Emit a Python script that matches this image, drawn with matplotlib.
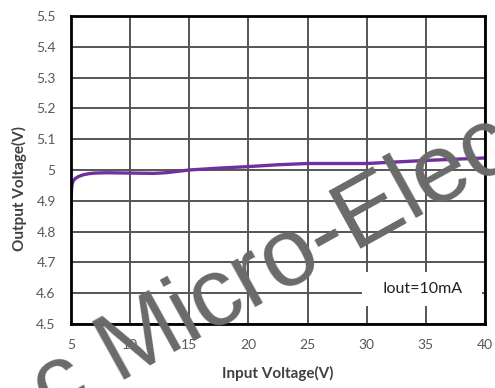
import matplotlib
matplotlib.use('Agg')
import matplotlib.pyplot as plt
from matplotlib.patches import Rectangle

# output voltage vs input voltage, Iout = 10mA
vin = [5, 5.02, 5.05, 5.1, 5.2, 5.35, 5.6, 6, 6.5, 7, 8, 10, 12, 13, 15,
       17.5, 20, 22.5, 25, 27.5, 30, 32.5, 35, 37.5, 40]
vout = [4.85, 4.91, 4.94, 4.955, 4.965, 4.972, 4.978, 4.984, 4.988, 4.99, 4.991,
        4.99, 4.989, 4.991, 5.0, 5.006, 5.011, 5.017, 5.021, 5.021, 5.021,
        5.026, 5.031, 5.035, 5.039]

x_ticks = [5, 10, 15, 20, 25, 30, 35, 40]
y_ticks = [4.5, 4.6, 4.7, 4.8, 4.9, 5.0, 5.1, 5.2, 5.3, 5.4, 5.5]
y_labels = ['4.5', '4.6', '4.7', '4.8', '4.9', '5', '5.1', '5.2', '5.3', '5.4', '5.5']

plt.rcParams['font.family'] = ['Lato', 'DejaVu Sans']

fig = plt.figure(figsize=(4.95, 3.88), dpi=100)
ax = fig.add_axes([0.1434, 0.165, 0.8364, 0.7938])

ax.plot(vin, vout, color='#7030A0', lw=2.4, solid_capstyle='round', zorder=4)

ax.set_xlim(5, 40)
ax.set_ylim(4.5, 5.5)
ax.set_xticks(x_ticks)
ax.set_yticks(y_ticks)
ax.set_yticklabels(y_labels)
ax.tick_params(length=0, labelsize=10, labelcolor='#595959')
ax.tick_params(axis='x', pad=11)
ax.tick_params(axis='y', pad=11)
ax.grid(True, color='#555555', lw=1.4, zorder=1)
ax.set_axisbelow(True)
for s in ax.spines.values():
    s.set_linewidth(2)
    s.set_color('black')
    s.set_zorder(5)

ax.set_xlabel('Input Voltage(V)', fontsize=11, fontweight='bold', color='#404040')
ax.xaxis.set_label_coords(0.5, -0.135)
ax.set_ylabel('Output Voltage(V)', fontsize=11, fontweight='bold', color='#404040')
ax.yaxis.set_label_coords(-0.106, 0.44)

# white box behind the condition label
ax.add_patch(Rectangle((29.6, 4.558), 10.15, 0.111, facecolor='white',
                       edgecolor='none', zorder=3))
ax.text(34.7, 4.612, 'Iout=10mA', fontsize=11.5, color='#202020',
        ha='center', va='center', zorder=4)

# watermark
fig.text(0.1049, -0.0817, 'c Micro-Elec', fontsize=70, color='#6a6a6a',
         family='Liberation Sans', rotation=29, rotation_mode='anchor',
         ha='left', va='baseline', zorder=10)

fig.savefig('out.png', dpi=100)
